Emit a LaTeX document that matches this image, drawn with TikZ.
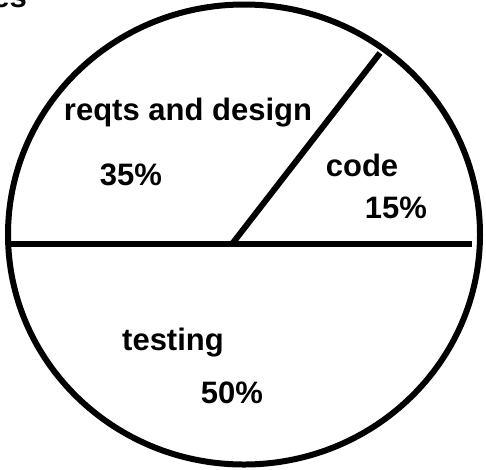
\documentclass[tikz,border=0pt]{standalone}
\usepackage{fontspec}
\setmainfont{Liberation Sans}
\usetikzlibrary{positioning}
\tikzset{
  slice/.style={line width=6pt, black},
  lbl/.style={anchor=base, inner sep=0pt, font=\fontsize{31}{36}\selectfont\bfseries}
}
\begin{document}
\begin{tikzpicture}[x=1pt,y=-1pt]
            \useasboundingbox (0,0) rectangle (486,469);
            % Cut-off title
            \node[lbl, anchor=base east] (title) at (27,7) {es};
            % Outline
            \draw[slice] (244,234.5) ellipse [x radius=236, y radius=230];
            % Dividers
            \coordinate (left) at (10,244);
            \coordinate (right) at (472,244);
            \coordinate (hub) at (232,244);
            \coordinate (rim) at (380,53);
            \draw[slice] (left) -- (right);
            \draw[slice] (hub) -- (rim);
            % Labels
            \node[lbl] (reqts) at (188,120) {reqts and design};
            \node[lbl] (reqtsp) at (131,185) {35\%};
            \node[lbl] (code) at (362,176) {code};
            \node[lbl] (codep) at (396,218) {15\%};
            \node[lbl] (test) at (173,350) {testing};
            \node[lbl] (testp) at (232,403) {50\%};
\end{tikzpicture}
\end{document}
